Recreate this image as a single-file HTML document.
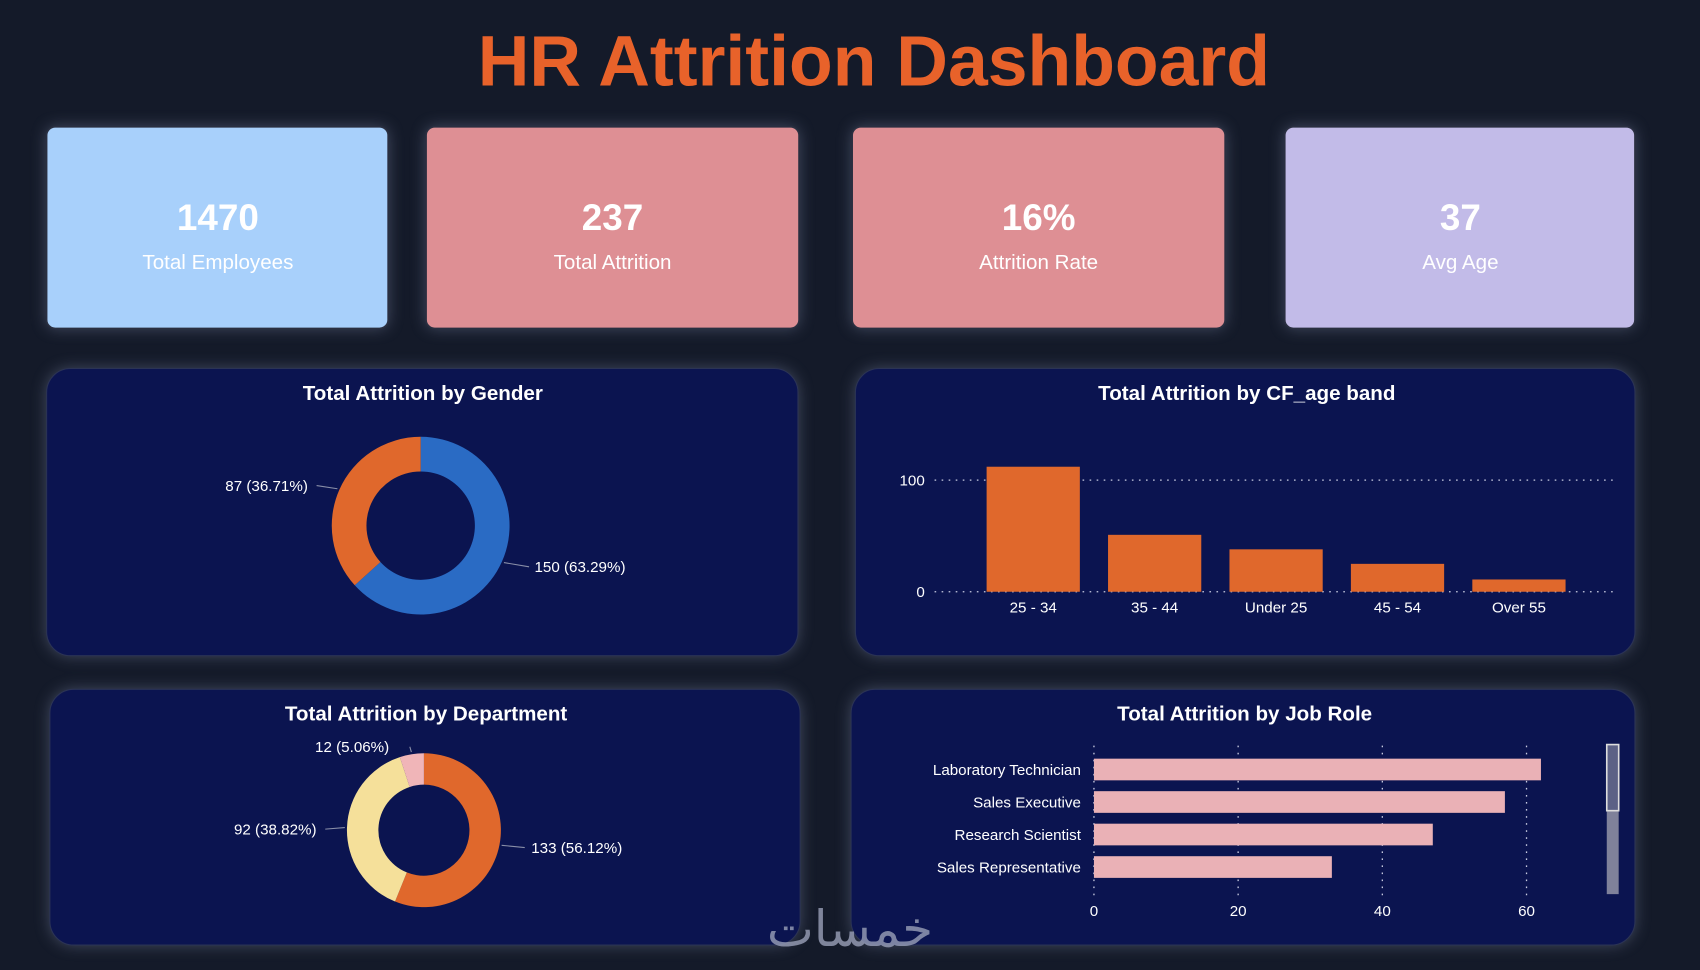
<!DOCTYPE html>
<html><head><meta charset="utf-8"><style>
html,body{margin:0;padding:0;background:#141a29;}
svg{display:block;font-family:"Liberation Sans",sans-serif;}
</style></head><body>
<svg id="dash" width="1700" height="970" viewBox="0 0 1568 895" preserveAspectRatio="none">
<defs>
<filter id="glow" x="-10%" y="-20%" width="120%" height="140%"><feGaussianBlur stdDeviation="7"/></filter>
</defs>
<rect x="0" y="0" width="1568" height="895" fill="#141a29"/>
<text x="806" y="79" text-anchor="middle" font-size="66" font-weight="bold" fill="#e8622a">HR Attrition Dashboard</text>

<g fill="#6b7590" opacity="0.55" filter="url(#glow)">
<rect x="43" y="117" width="315" height="186" rx="8"/><rect x="393" y="117" width="344" height="186" rx="8"/>
<rect x="786" y="117" width="344" height="186" rx="8"/><rect x="1185" y="117" width="323" height="186" rx="8"/>
<rect x="43" y="340" width="693" height="265" rx="22"/><rect x="789" y="340" width="719" height="265" rx="22"/>
<rect x="46" y="636" width="692" height="236" rx="22"/><rect x="785" y="636" width="723" height="236" rx="22"/>
</g>

<g>
<rect x="43" y="117" width="315" height="186" rx="8" fill="#a8d0fb" stroke="#2a2f40" stroke-width="1.5"/>
<text x="201" y="212" text-anchor="middle" font-size="34" font-weight="bold" fill="#fff">1470</text>
<text x="201" y="248" text-anchor="middle" font-size="19" fill="#fff">Total Employees</text></g>
<g>
<rect x="393" y="117" width="344" height="186" rx="8" fill="#de8f94" stroke="#2a2f40" stroke-width="1.5"/>
<text x="565" y="212" text-anchor="middle" font-size="34" font-weight="bold" fill="#fff">237</text>
<text x="565" y="248" text-anchor="middle" font-size="19" fill="#fff">Total Attrition</text></g>
<g>
<rect x="786" y="117" width="344" height="186" rx="8" fill="#de8f94" stroke="#2a2f40" stroke-width="1.5"/>
<text x="958" y="212" text-anchor="middle" font-size="34" font-weight="bold" fill="#fff">16%</text>
<text x="958" y="248" text-anchor="middle" font-size="19" fill="#fff">Attrition Rate</text></g>
<g>
<rect x="1185" y="117" width="323" height="186" rx="8" fill="#c2bbe8" stroke="#2a2f40" stroke-width="1.5"/>
<text x="1347" y="212" text-anchor="middle" font-size="34" font-weight="bold" fill="#fff">37</text>
<text x="1347" y="248" text-anchor="middle" font-size="19" fill="#fff">Avg Age</text></g>

<g>
<rect x="43" y="340" width="693" height="265" rx="22" fill="#0b1450" stroke="#2b3355"/>
<text x="390" y="369" text-anchor="middle" font-size="19" font-weight="bold" fill="#fff">Total Attrition by Gender</text>
<g id="gender"></g></g>
<g>
<rect x="789" y="340" width="719" height="265" rx="22" fill="#0b1450" stroke="#2b3355"/>
<text x="1150" y="369" text-anchor="middle" font-size="19" font-weight="bold" fill="#fff">Total Attrition by CF_age band</text>
<g id="age"></g></g>
<g>
<rect x="46" y="636" width="692" height="236" rx="22" fill="#0b1450" stroke="#2b3355"/>
<text x="393" y="665" text-anchor="middle" font-size="19" font-weight="bold" fill="#fff">Total Attrition by Department</text>
<g id="dept"></g></g>
<g>
<rect x="785" y="636" width="723" height="236" rx="22" fill="#0b1450" stroke="#2b3355"/>
<text x="1148" y="665" text-anchor="middle" font-size="19" font-weight="bold" fill="#fff">Total Attrition by Job Role</text>
<g id="job"></g>
<rect x="1482" y="687" width="11" height="138" fill="#7f819a"/>
<rect x="1482" y="687" width="11" height="61" fill="#5c6186" stroke="#ddd" stroke-width="1.5"/>
</g>
<text x="784" y="873" text-anchor="middle" font-size="46" fill="#9aa0b8" opacity="0.8" font-family="'DejaVu Sans',sans-serif">خمسات</text>
</svg>
<script>
const genderLabels = ["Male","Female"];
const genderValues = [150, 87];
const deptLabels = ["R&D","Sales","HR"];
const deptValues = [133, 92, 12];
const ageCategories = ["25 - 34","35 - 44","Under 25","45 - 54","Over 55"];
const ageValues = [112, 51, 38, 25, 11];
const ageTicks = [0, 100];
const jobCategories = ["Laboratory Technician","Sales Executive","Research Scientist","Sales Representative"];
const jobValues = [62, 57, 47, 33];
const jobTicks = [0, 20, 40, 60];

const NS = "http://www.w3.org/2000/svg";
function mk(tag, attrs, parent){const e=document.createElementNS(NS,tag);for(const k in attrs)e.setAttribute(k,attrs[k]);parent.appendChild(e);return e;}
function pt(cx,cy,r,a){return [cx+r*Math.sin(a), cy-r*Math.cos(a)];}
function donut(g, vals, names, colors, cx, cy, R, r, labelPos){
  const tot = vals.reduce((a,b)=>a+b,0); let a0=0;
  vals.forEach((v,i)=>{
    const a1=a0+v/tot*2*Math.PI, big=(a1-a0)>Math.PI?1:0;
    const [x1,y1]=pt(cx,cy,R,a0),[x2,y2]=pt(cx,cy,R,a1),[x3,y3]=pt(cx,cy,r,a1),[x4,y4]=pt(cx,cy,r,a0);
    const p=mk("path",{d:`M${x1},${y1}A${R},${R} 0 ${big} 1 ${x2},${y2}L${x3},${y3}A${r},${r} 0 ${big} 0 ${x4},${y4}Z`,fill:colors[i]},g);
    
    
    const mid=(a0+a1)/2, [mx,my]=pt(cx,cy,R+2,mid), lp=labelPos[i];
    mk("polyline",{points:`${mx},${my} ${lp[2]},${lp[1]-5}`,fill:"none",stroke:"#8a8fa8","stroke-width":1},g);
    const t=mk("text",{x:lp[0],y:lp[1],"font-size":14,fill:"#fff","text-anchor":lp[3]},g);
    t.textContent=v+" ("+(v/tot*100).toFixed(2)+"%)";
    
    
    a0=a1;
  });
}
donut(document.getElementById('gender'), genderValues, genderLabels, ["#2a6bc4","#e0682c"], 388, 485, 82, 50,
  [[493,528,488,"start"],[284,453,292,"end"]]);
donut(document.getElementById('dept'), deptValues, deptLabels, ["#e0682c","#f5e09a","#f0b5b8"], 391, 766, 71, 42,
  [[490,787,484,"start"],[292,770,300,"end"],[359,694,378,"end"]]);

// age bar chart
(function(){
  const g=document.getElementById('age');
  const y0=546, pxPer=1.03, xs=953, step=112, bw=86;
  const yS=v=>y0-v*pxPer;
  ageTicks.forEach(t=>{
    mk("line",{x1:862,x2:1490,y1:yS(t),y2:yS(t),stroke:"#c8cbe0","stroke-width":1.2,"stroke-dasharray":"1.5 5"},g);
    const tx=mk("text",{x:853,y:yS(t)+5,"text-anchor":"end","font-size":14,fill:"#fff"},g);tx.textContent=t;
    
    
  });
  ageCategories.forEach((c,i)=>{
    const cx=xs+i*step;
    const r=mk("rect",{x:cx-bw/2,y:yS(ageValues[i]),width:bw,height:ageValues[i]*pxPer,fill:"#e0682c"},g);
    
    
    const t=mk("text",{x:cx,y:565,"text-anchor":"middle","font-size":14,fill:"#fff"},g);t.textContent=c;
    
    
  });
})();

// job role bar chart
(function(){
  const g=document.getElementById('job');
  const x0=1009, pxPer=6.65, yc=710, step=30, bh=20;
  const xS=v=>x0+v*pxPer;
  jobTicks.forEach(t=>{
    mk("line",{x1:xS(t),x2:xS(t),y1:688,y2:828,stroke:"#c8cbe0","stroke-width":1.2,"stroke-dasharray":"1.5 5"},g);
    const tx=mk("text",{x:xS(t),y:845,"text-anchor":"middle","font-size":14,fill:"#fff"},g);tx.textContent=t;
    
    
  });
  jobCategories.forEach((c,i)=>{
    const cy=yc+i*step;
    const r=mk("rect",{x:x0,y:cy-bh/2,width:jobValues[i]*pxPer,height:bh,fill:"#eab1b6"},g);
    
    
    const t=mk("text",{x:997,y:cy+5,"text-anchor":"end","font-size":14,fill:"#fff"},g);t.textContent=c;
    
    
  });
})();
</script>
</body></html>
